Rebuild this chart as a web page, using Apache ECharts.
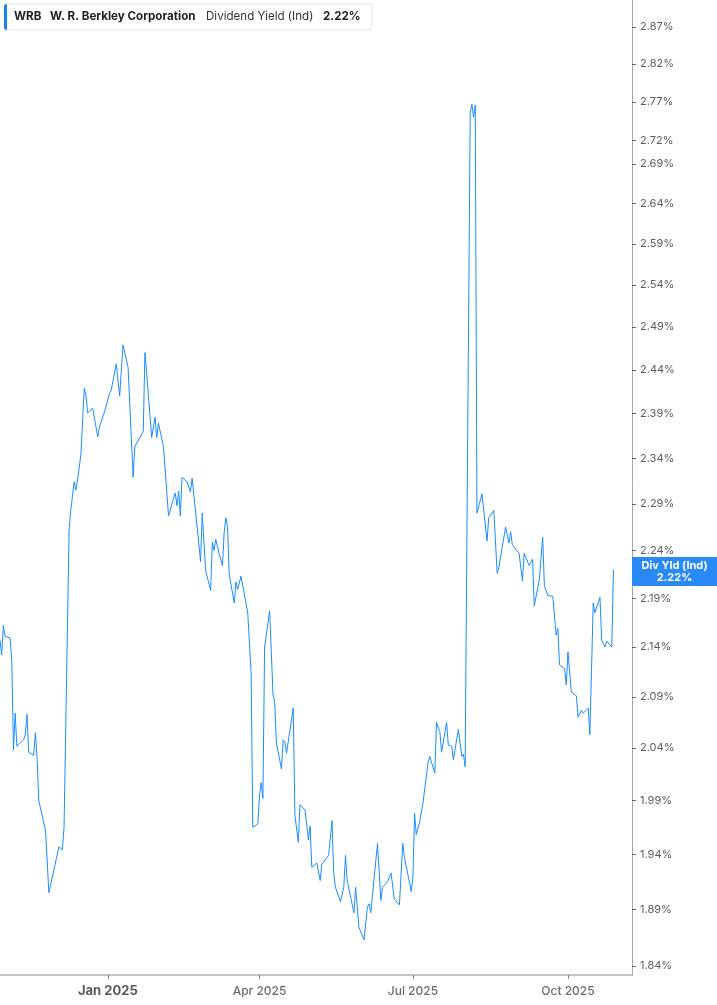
<!DOCTYPE html>
<html>
<head>
<meta charset="utf-8">
<script src="https://cdn.jsdelivr.net/npm/echarts@6/dist/echarts.min.js"></script>
<style>html,body{margin:0;padding:0;background:#fff}#c{width:717px;height:1005px}</style>
</head>
<body>
<div id="c"></div>
<script>
// ---- data ----
const ticker = 'WRB';
const company = 'W. R. Berkley Corporation';
const metric = 'Dividend Yield (Ind)';
const shortMetric = 'Div Yld (Ind)';
const lastValue = 2.22;

const dates = [
'2024-10-29','2024-10-30','2024-10-31','2024-11-01','2024-11-04','2024-11-05','2024-11-06','2024-11-07','2024-11-08','2024-11-12',
'2024-11-13','2024-11-14','2024-11-15','2024-11-18','2024-11-19','2024-11-20','2024-11-21','2024-11-25','2024-11-27','2024-12-03',
'2024-12-05','2024-12-06','2024-12-09','2024-12-10','2024-12-12','2024-12-13','2024-12-14','2024-12-16','2024-12-18','2024-12-19',
'2024-12-20','2024-12-23','2024-12-26','2024-12-27','2024-12-30','2024-12-31','2025-01-02','2025-01-03','2025-01-06','2025-01-08',
'2025-01-10','2025-01-13','2025-01-16','2025-01-17','2025-01-22','2025-01-23','2025-01-24','2025-01-27','2025-01-29','2025-01-30',
'2025-01-31','2025-02-03','2025-02-06','2025-02-07','2025-02-10','2025-02-11','2025-02-12','2025-02-13','2025-02-14','2025-02-17',
'2025-02-19','2025-02-20','2025-02-23','2025-02-25','2025-02-26','2025-02-28','2025-03-03','2025-03-04','2025-03-05','2025-03-06',
'2025-03-08','2025-03-10','2025-03-11','2025-03-12','2025-03-13','2025-03-14','2025-03-17','2025-03-18','2025-03-19','2025-03-21',
'2025-03-25','2025-03-27','2025-03-28','2025-03-31','2025-04-01','2025-04-02','2025-04-03','2025-04-04','2025-04-07','2025-04-09',
'2025-04-10','2025-04-11','2025-04-14','2025-04-15','2025-04-16','2025-04-17','2025-04-21','2025-04-22','2025-04-24','2025-04-25',
'2025-04-28','2025-04-30','2025-05-01','2025-05-02','2025-05-05','2025-05-07','2025-05-08','2025-05-12','2025-05-14','2025-05-15',
'2025-05-16','2025-05-19','2025-05-21','2025-05-22','2025-05-23','2025-05-27','2025-05-28','2025-05-30','2025-06-02','2025-06-04',
'2025-06-05','2025-06-06','2025-06-10','2025-06-12','2025-06-13','2025-06-16','2025-06-18','2025-06-20','2025-06-23','2025-06-25',
'2025-06-26','2025-06-27','2025-06-30','2025-07-01','2025-07-02','2025-07-03','2025-07-05','2025-07-07','2025-07-10','2025-07-11',
'2025-07-14','2025-07-15','2025-07-17','2025-07-18','2025-07-21','2025-07-22','2025-07-24','2025-07-25','2025-07-28','2025-07-30',
'2025-07-31','2025-08-01','2025-08-04','2025-08-05','2025-08-06','2025-08-07','2025-08-08','2025-08-10','2025-08-11','2025-08-14',
'2025-08-15','2025-08-18','2025-08-20','2025-08-21','2025-08-25','2025-08-27','2025-08-28','2025-08-29','2025-09-02','2025-09-04',
'2025-09-05','2025-09-08','2025-09-10','2025-09-11','2025-09-12','2025-09-14','2025-09-16','2025-09-17','2025-09-19','2025-09-22',
'2025-09-24','2025-09-25','2025-09-26','2025-09-29','2025-09-30','2025-10-01','2025-10-03','2025-10-06','2025-10-07','2025-10-09',
'2025-10-10','2025-10-13','2025-10-14','2025-10-16','2025-10-17','2025-10-20','2025-10-21','2025-10-23','2025-10-24','2025-10-27',
'2025-10-28'
];

const yields = [
2.147,2.132,2.162,2.151,2.149,2.125,2.038,2.074,2.042,2.048,
2.053,2.073,2.036,2.033,2.055,2.031,1.990,1.962,1.905,1.947,
1.944,1.965,2.262,2.283,2.314,2.305,2.316,2.344,2.419,2.411,
2.391,2.396,2.364,2.375,2.392,2.392,2.413,2.417,2.447,2.410,
2.469,2.443,2.319,2.353,2.370,2.460,2.437,2.363,2.386,2.363,
2.379,2.353,2.277,2.276,2.302,2.288,2.304,2.277,2.319,2.314,
2.303,2.318,2.265,2.228,2.280,2.219,2.198,2.249,2.240,2.252,
2.237,2.224,2.259,2.275,2.265,2.215,2.185,2.207,2.199,2.213,
2.175,2.114,1.965,1.968,1.995,2.007,1.992,2.140,2.177,2.092,
2.085,2.045,2.020,2.048,2.046,2.035,2.079,1.976,1.951,1.986,
1.981,1.953,1.966,1.928,1.932,1.916,1.931,1.939,1.971,1.923,
1.910,1.897,1.910,1.939,1.916,1.887,1.910,1.874,1.863,1.892,
1.895,1.887,1.950,1.898,1.910,1.915,1.923,1.899,1.894,1.950,
1.937,1.937,1.906,1.919,1.978,1.958,1.970,1.988,2.026,2.032,
2.016,2.065,2.056,2.036,2.065,2.043,2.042,2.029,2.058,2.032,
2.034,2.022,2.756,2.767,2.750,2.766,2.280,2.294,2.301,2.250,
2.275,2.283,2.216,2.222,2.265,2.248,2.260,2.246,2.237,2.208,
2.237,2.224,2.231,2.182,2.181,2.209,2.254,2.203,2.193,2.192,
2.152,2.159,2.122,2.118,2.102,2.135,2.095,2.091,2.070,2.077,
2.074,2.079,2.053,2.185,2.175,2.191,2.147,2.140,2.146,2.140,
2.220
];

const yTicks = [1.84,1.89,1.94,1.99,2.04,2.09,2.14,2.19,2.24,2.29,2.34,2.39,2.44,2.49,2.54,2.59,2.64,2.69,2.72,2.77,2.82,2.87];
const xTicks = ['2025-01-01','2025-04-01','2025-07-01','2025-10-01'];
const xRange = ['2024-10-29','2025-11-08'];
const monthNames = ['Jan','Feb','Mar','Apr','May','Jun','Jul','Aug','Sep','Oct','Nov','Dec'];

// date string -> local timestamp
function ts(s) { const p = s.split('-').map(Number); return new Date(p[0], p[1] - 1, p[2]).getTime(); }

// ---- chart ----
const FONT = 'Inter';
const BLUE = '#1a8cff';
const chart = echarts.init(document.getElementById('c'), null, {renderer: 'canvas'});

const option = {
  animation: false,
  backgroundColor: '#ffffff',
  textStyle: {fontFamily: FONT},
  grid: {left: 0, right: 85, top: 0, bottom: 30, outerBoundsMode: 'none', containLabel: false},
  xAxis: {
    type: 'value',
    min: ts(xRange[0]),
    max: ts(xRange[1]),
    axisLine: {show: true, lineStyle: {color: '#b3b3b3', width: 1.5}},
    axisTick: {show: true, customValues: xTicks.map(ts), length: 4, lineStyle: {color: '#888'}},
    axisLabel: {
      customValues: xTicks.map(ts),
      fontFamily: FONT, fontSize: 12, color: '#6b6b6b', fontWeight: 500, margin: 10,
      formatter: function (v) {
        const d = new Date(v);
        const s = monthNames[d.getMonth()] + ' ' + d.getFullYear();
        return d.getMonth() === 0 ? '{b|' + s + '}' : s;
      },
      rich: {b: {fontFamily: FONT, fontSize: 13, fontWeight: 'bold', color: '#5a5a5a'}}
    },
    splitLine: {show: false}
  },
  yAxis: {
    type: 'log',
    logBase: 10,
    position: 'right',
    min: 1.8322,
    max: 2.907,
    axisLine: {show: true, lineStyle: {color: '#a8a8a8', width: 1}},
    axisTick: {show: true, customValues: yTicks, length: 4, lineStyle: {color: '#666'}},
    axisLabel: {
      customValues: yTicks,
      fontFamily: FONT, fontSize: 11, color: '#5c5c5c', margin: 8,
      formatter: function (v) { return Number(v).toFixed(2) + '%'; }
    },
    splitLine: {show: false}
  },
  series: [{
    type: 'line',
    data: dates.map(function (d, i) { return [ts(d), yields[i]]; }),
    symbol: 'none',
    showSymbol: false,
    lineStyle: {color: BLUE, width: 1},
    markLine: {
      silent: true,
      symbol: 'none',
      lineStyle: {color: 'rgba(0,0,0,0)', width: 0, opacity: 1},
      data: [{yAxis: lastValue}],
      label: {
        show: true,
        opacity: 1,
        position: 'end',
        distance: 0,
        offset: [0, 2],
        formatter: '{a|' + shortMetric + '}\n{a|' + lastValue.toFixed(2) + '%}',
        backgroundColor: '#2a8af5',
        padding: [2, 6, 2, 6],
        rich: {a: {width: 73, align: 'center', color: '#fff', fontFamily: FONT, fontSize: 11, fontWeight: 'bold', lineHeight: 12.5}}
      }
    }
  }],
  graphic: [
    {type: 'rect', x: 4, y: 4, shape: {width: 368, height: 26, r: 3}, style: {fill: '#fff', stroke: '#e4e4e4', lineWidth: 1}},
    {type: 'rect', x: 4, y: 4, shape: {width: 3, height: 26, r: [3, 0, 0, 3]}, style: {fill: '#1a7ff0'}},
    {type: 'text', x: 14, y: 17, style: {text: ticker, fill: '#222', font: 'bold 11.6px Inter', verticalAlign: 'middle'}},
    {type: 'text', x: 50, y: 17, style: {text: company, fill: '#222', font: 'bold 11.6px Inter', verticalAlign: 'middle'}},
    {type: 'text', x: 206, y: 17, style: {text: metric, fill: '#333', font: '11.6px Inter', verticalAlign: 'middle'}},
    {type: 'text', x: 323, y: 17, style: {text: lastValue.toFixed(2) + '%', fill: '#222', font: 'bold 11.6px Inter', verticalAlign: 'middle'}}
  ]
};
chart.setOption(option);
</script>
</body>
</html>
